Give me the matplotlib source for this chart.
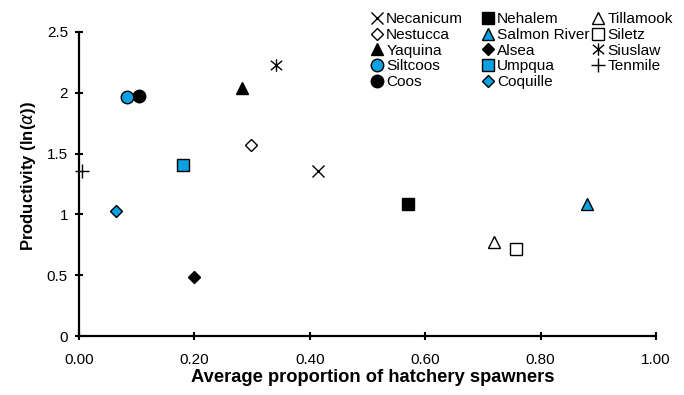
import matplotlib
matplotlib.use("Agg")
import matplotlib.pyplot as plt
from matplotlib.legend import Legend
from matplotlib.path import Path

plt.rcParams['font.family'] = ['Liberation Sans', 'DejaVu Sans']

# river names in legend order (column-wise)
rivers = ['Necanicum', 'Nestucca', 'Yaquina', 'Siltcoos', 'Coos',
          'Nehalem', 'Salmon River', 'Alsea', 'Umpqua', 'Coquille',
          'Tillamook', 'Siletz', 'Siuslaw', 'Tenmile']
hatchery = [0.415, 0.298, 0.283, 0.084, 0.104,
            0.570, 0.881, 0.200, 0.180, 0.064,
            0.719, 0.758, 0.341, 0.005]
productivity = [1.355, 1.57, 2.04, 1.965, 1.976,
                1.09, 1.086, 0.49, 1.41, 1.025,
                0.776, 0.715, 2.23, 1.36]
legend_columns = [rivers[0:5], rivers[5:10], rivers[10:14]]

# x with a vertical bar through it
star = Path([(0, -1), (0, 1), (-0.9, -0.75), (0.9, 0.75), (-0.9, 0.75), (0.9, -0.75)],
            [Path.MOVETO, Path.LINETO, Path.MOVETO, Path.LINETO, Path.MOVETO, Path.LINETO])

blue = '#0AA0E2'
styles = {
    'Necanicum':    dict(marker='x', color='black', ms=8, mew=1.0),
    'Nestucca':     dict(marker='D', mfc='white', mec='black', ms=6.5, mew=1.0),
    'Yaquina':      dict(marker='^', mfc='black', mec='black', ms=9.2),
    'Siltcoos':     dict(marker='o', mfc=blue, mec='black', ms=9, mew=1.0),
    'Coos':         dict(marker='o', mfc='black', mec='black', ms=9),
    'Nehalem':      dict(marker='s', mfc='black', mec='black', ms=9.3),
    'Salmon River': dict(marker='^', mfc=blue, mec='black', ms=9.2, mew=1.0),
    'Alsea':        dict(marker='D', mfc='black', mec='black', ms=6.5),
    'Umpqua':       dict(marker='s', mfc=blue, mec='black', ms=9.3, mew=1.0),
    'Coquille':     dict(marker='D', mfc=blue, mec='black', ms=6.5, mew=1.0),
    'Tillamook':    dict(marker='^', mfc='white', mec='black', ms=9.2, mew=1.0),
    'Siletz':       dict(marker='s', mfc='white', mec='black', ms=9.3, mew=1.0),
    'Siuslaw':      dict(marker=star, color='black', ms=9, mew=1.0),
    'Tenmile':      dict(marker='+', color='black', ms=10, mew=1.0),
}

fig = plt.figure(figsize=(6.84, 3.95), dpi=100)
ax = fig.add_axes([0.1155, 0.149, 0.8435, 0.77])

handles = {}
for name, x, y in zip(rivers, hatchery, productivity):
    z = 4 if name == 'Siltcoos' else 3
    line, = ax.plot([x], [y], linestyle='none', label=name, zorder=z, clip_on=False,
                    **styles[name])
    handles[name] = line

ax.set_xlim(0, 1)
ax.set_ylim(0, 2.5)
ax.set_xticks([0, 0.2, 0.4, 0.6, 0.8, 1.0])
ax.set_xticklabels(['0.00', '0.20', '0.40', '0.60', '0.80', '1.00'])
ax.set_yticks([0, 0.5, 1, 1.5, 2, 2.5])
ax.set_yticklabels(['0', '0.5', '1', '1.5', '2', '2.5'])
ax.tick_params(labelsize=11, direction='inout', length=6, width=1.5)
ax.tick_params(axis='x', pad=9)
ax.tick_params(axis='y', pad=5)
for side in ['top', 'right']:
    ax.spines[side].set_visible(False)
for side in ['left', 'bottom']:
    ax.spines[side].set_linewidth(1.6)

ax.set_xlabel('Average proportion of hatchery spawners', fontsize=13.2,
              fontweight='bold')
ax.xaxis.set_label_coords(0.51, -0.108)
ax.set_ylabel(r'Productivity (ln($\alpha$))', fontsize=12, fontweight='bold')
ax.yaxis.set_label_coords(-0.071, 0.525)

# three one-column legends so the columns sit at fixed spacing
col_x = [0.541, 0.703, 0.864]
for names, cx in zip(legend_columns, col_x):
    leg = Legend(ax, [handles[n] for n in names], names, loc='upper left',
                 bbox_to_anchor=(cx, 0.969), bbox_transform=fig.transFigure,
                 frameon=False, fontsize=11.1, handlelength=0.9,
                 handletextpad=0.15, labelspacing=0.11, borderpad=0,
                 borderaxespad=0)
    ax.add_artist(leg)

fig.savefig('out.png', dpi=100)
